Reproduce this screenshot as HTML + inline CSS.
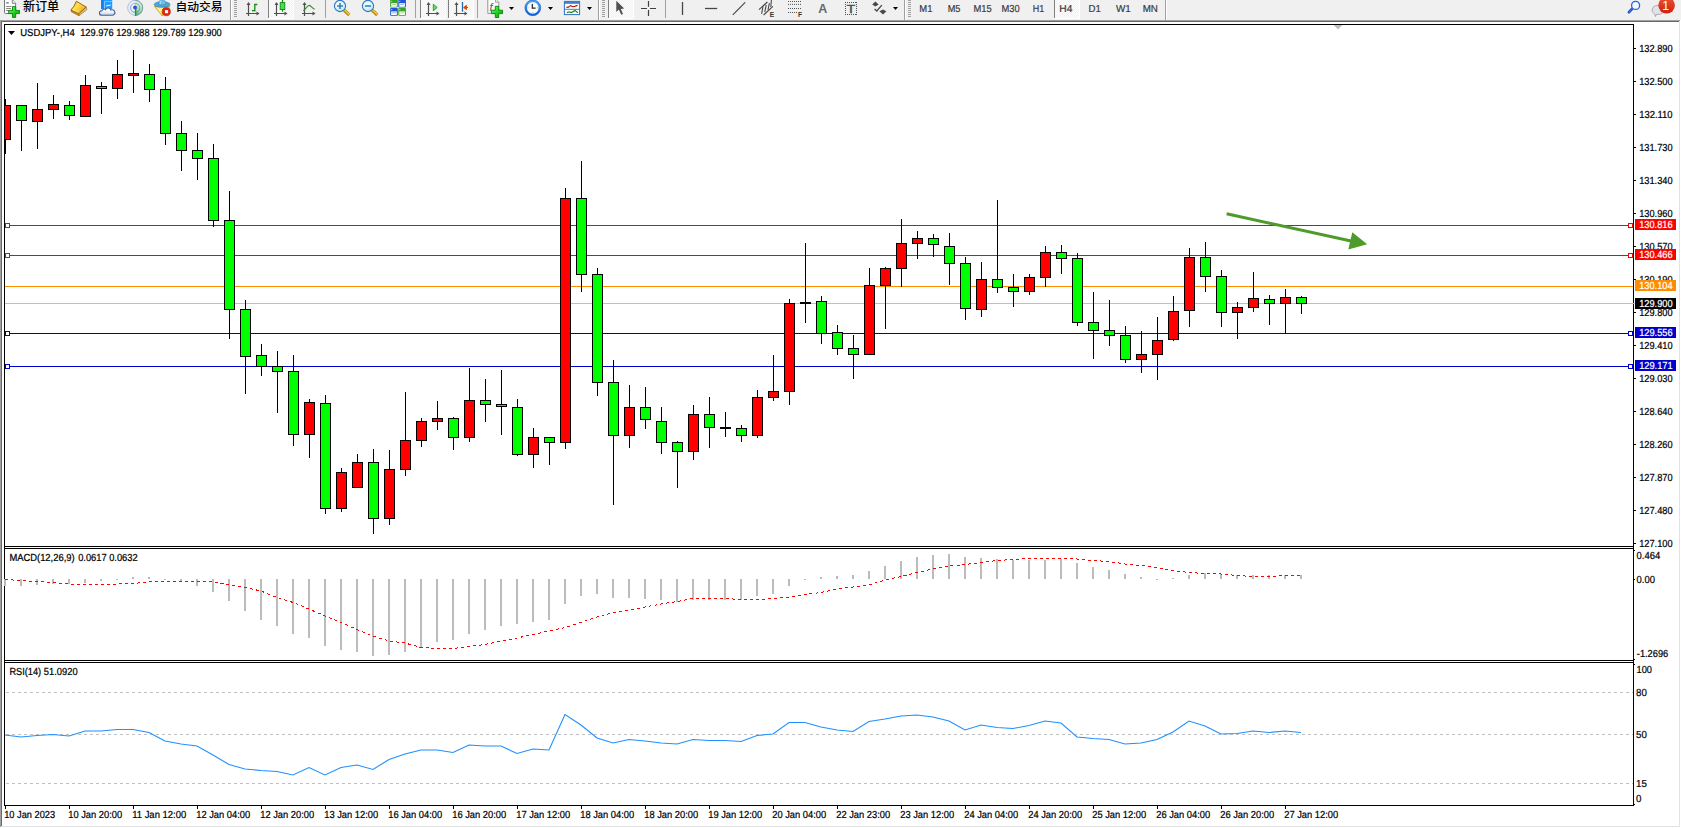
<!DOCTYPE html><html><head><meta charset="utf-8"><title>USDJPY H4</title><style>
html,body{margin:0;padding:0;background:#fff;overflow:hidden}svg{display:block}
text{font-family:'Liberation Sans', 'Noto Sans CJK SC', sans-serif;white-space:pre}
</style></head><body>
<svg width="1681" height="828" viewBox="0 0 1681 828">
<rect x="0" y="0" width="1681" height="828" fill="#ffffff"/>
<rect x="0" y="0" width="1681" height="20" fill="#f0f0f0"/>
<g shape-rendering="crispEdges">
<rect x="0" y="20" width="1680" height="1" fill="#a0a0a0"/>
<rect x="0" y="20" width="1" height="807" fill="#a0a0a0"/>
<rect x="1" y="21" width="1678" height="1" fill="#696969"/>
<rect x="1" y="21" width="1" height="805" fill="#696969"/>
<rect x="1679" y="21" width="1" height="806" fill="#e3e3e3"/>
<rect x="1" y="826" width="1679" height="1" fill="#e3e3e3"/>
<rect x="4" y="24" width="1" height="782" fill="#000000"/>
<rect x="1633" y="24" width="1" height="782" fill="#000000"/>
<rect x="4" y="24" width="1630" height="1" fill="#000000"/>
<rect x="4" y="546" width="1630" height="1" fill="#000000"/>
<rect x="4" y="548" width="1630" height="1" fill="#000000"/>
<rect x="4" y="660" width="1630" height="1" fill="#000000"/>
<rect x="4" y="662" width="1630" height="1" fill="#000000"/>
<rect x="4" y="805" width="1630" height="1" fill="#000000"/>
<rect x="1634" y="48" width="2" height="1" fill="#000000"/>
<rect x="1634" y="81" width="2" height="1" fill="#000000"/>
<rect x="1634" y="114" width="2" height="1" fill="#000000"/>
<rect x="1634" y="147" width="2" height="1" fill="#000000"/>
<rect x="1634" y="180" width="2" height="1" fill="#000000"/>
<rect x="1634" y="213" width="2" height="1" fill="#000000"/>
<rect x="1634" y="246" width="2" height="1" fill="#000000"/>
<rect x="1634" y="279" width="2" height="1" fill="#000000"/>
<rect x="1634" y="312" width="2" height="1" fill="#000000"/>
<rect x="1634" y="345" width="2" height="1" fill="#000000"/>
<rect x="1634" y="378" width="2" height="1" fill="#000000"/>
<rect x="1634" y="411" width="2" height="1" fill="#000000"/>
<rect x="1634" y="444" width="2" height="1" fill="#000000"/>
<rect x="1634" y="477" width="2" height="1" fill="#000000"/>
<rect x="1634" y="510" width="2" height="1" fill="#000000"/>
<rect x="1634" y="543" width="2" height="1" fill="#000000"/>
<rect x="1634" y="579" width="1" height="1" fill="#000000"/>
<rect x="1634" y="550" width="1" height="1" fill="#000000"/>
<rect x="1634" y="659" width="1" height="1" fill="#000000"/>
<rect x="1634" y="664" width="1" height="1" fill="#000000"/>
<rect x="1634" y="804" width="1" height="1" fill="#000000"/>
<rect x="5" y="806" width="1" height="3" fill="#000000"/>
<rect x="69" y="806" width="1" height="3" fill="#000000"/>
<rect x="133" y="806" width="1" height="3" fill="#000000"/>
<rect x="197" y="806" width="1" height="3" fill="#000000"/>
<rect x="261" y="806" width="1" height="3" fill="#000000"/>
<rect x="325" y="806" width="1" height="3" fill="#000000"/>
<rect x="389" y="806" width="1" height="3" fill="#000000"/>
<rect x="453" y="806" width="1" height="3" fill="#000000"/>
<rect x="517" y="806" width="1" height="3" fill="#000000"/>
<rect x="581" y="806" width="1" height="3" fill="#000000"/>
<rect x="645" y="806" width="1" height="3" fill="#000000"/>
<rect x="709" y="806" width="1" height="3" fill="#000000"/>
<rect x="773" y="806" width="1" height="3" fill="#000000"/>
<rect x="837" y="806" width="1" height="3" fill="#000000"/>
<rect x="901" y="806" width="1" height="3" fill="#000000"/>
<rect x="965" y="806" width="1" height="3" fill="#000000"/>
<rect x="1029" y="806" width="1" height="3" fill="#000000"/>
<rect x="1093" y="806" width="1" height="3" fill="#000000"/>
<rect x="1157" y="806" width="1" height="3" fill="#000000"/>
<rect x="1221" y="806" width="1" height="3" fill="#000000"/>
<rect x="1285" y="806" width="1" height="3" fill="#000000"/>
<rect x="5" y="225" width="1628" height="1" fill="#ff0000"/>
<rect x="5" y="255" width="1628" height="1" fill="#ff0000"/>
<rect x="5" y="286" width="1628" height="1" fill="#ff8c00"/>
<rect x="5" y="303" width="1630" height="1" fill="#c0c0c0"/>
<rect x="5" y="333" width="1628" height="1" fill="#0000cd"/>
<rect x="5" y="366" width="1628" height="1" fill="#0000cd"/>
<path d="M6 692.5H1633" stroke="#c0c0c0" stroke-width="1" stroke-dasharray="3 3" fill="none"/>
<path d="M6 734.5H1633" stroke="#c0c0c0" stroke-width="1" stroke-dasharray="3 3" fill="none"/>
<path d="M6 783.5H1633" stroke="#c0c0c0" stroke-width="1" stroke-dasharray="3 3" fill="none"/>
<rect x="4" y="579" width="2" height="7" fill="#bcbcbc"/>
<rect x="20" y="579" width="2" height="7" fill="#bcbcbc"/>
<rect x="36" y="579" width="2" height="6" fill="#bcbcbc"/>
<rect x="52" y="579" width="2" height="5" fill="#bcbcbc"/>
<rect x="68" y="579" width="2" height="5" fill="#bcbcbc"/>
<rect x="84" y="579" width="2" height="4" fill="#bcbcbc"/>
<rect x="100" y="579" width="2" height="2" fill="#bcbcbc"/>
<rect x="116" y="579" width="2" height="1" fill="#bcbcbc"/>
<rect x="132" y="577" width="2" height="2" fill="#bcbcbc"/>
<rect x="148" y="577" width="2" height="2" fill="#bcbcbc"/>
<rect x="164" y="579" width="2" height="1" fill="#bcbcbc"/>
<rect x="180" y="579" width="2" height="3" fill="#bcbcbc"/>
<rect x="196" y="579" width="2" height="7" fill="#bcbcbc"/>
<rect x="212" y="579" width="2" height="13" fill="#bcbcbc"/>
<rect x="228" y="579" width="2" height="22" fill="#bcbcbc"/>
<rect x="244" y="579" width="2" height="32" fill="#bcbcbc"/>
<rect x="260" y="579" width="2" height="41" fill="#bcbcbc"/>
<rect x="276" y="579" width="2" height="47" fill="#bcbcbc"/>
<rect x="292" y="579" width="2" height="55" fill="#bcbcbc"/>
<rect x="308" y="579" width="2" height="59" fill="#bcbcbc"/>
<rect x="324" y="579" width="2" height="67" fill="#bcbcbc"/>
<rect x="340" y="579" width="2" height="71" fill="#bcbcbc"/>
<rect x="356" y="579" width="2" height="73" fill="#bcbcbc"/>
<rect x="372" y="579" width="2" height="77" fill="#bcbcbc"/>
<rect x="388" y="579" width="2" height="76" fill="#bcbcbc"/>
<rect x="404" y="579" width="2" height="73" fill="#bcbcbc"/>
<rect x="420" y="579" width="2" height="69" fill="#bcbcbc"/>
<rect x="436" y="579" width="2" height="63" fill="#bcbcbc"/>
<rect x="452" y="579" width="2" height="61" fill="#bcbcbc"/>
<rect x="468" y="579" width="2" height="55" fill="#bcbcbc"/>
<rect x="484" y="579" width="2" height="51" fill="#bcbcbc"/>
<rect x="500" y="579" width="2" height="47" fill="#bcbcbc"/>
<rect x="516" y="579" width="2" height="45" fill="#bcbcbc"/>
<rect x="532" y="579" width="2" height="43" fill="#bcbcbc"/>
<rect x="548" y="579" width="2" height="41" fill="#bcbcbc"/>
<rect x="564" y="579" width="2" height="25" fill="#bcbcbc"/>
<rect x="580" y="579" width="2" height="17" fill="#bcbcbc"/>
<rect x="596" y="579" width="2" height="15" fill="#bcbcbc"/>
<rect x="612" y="579" width="2" height="19" fill="#bcbcbc"/>
<rect x="628" y="579" width="2" height="19" fill="#bcbcbc"/>
<rect x="644" y="579" width="2" height="20" fill="#bcbcbc"/>
<rect x="660" y="579" width="2" height="21" fill="#bcbcbc"/>
<rect x="676" y="579" width="2" height="23" fill="#bcbcbc"/>
<rect x="692" y="579" width="2" height="21" fill="#bcbcbc"/>
<rect x="708" y="579" width="2" height="21" fill="#bcbcbc"/>
<rect x="724" y="579" width="2" height="21" fill="#bcbcbc"/>
<rect x="740" y="579" width="2" height="21" fill="#bcbcbc"/>
<rect x="756" y="579" width="2" height="17" fill="#bcbcbc"/>
<rect x="772" y="579" width="2" height="15" fill="#bcbcbc"/>
<rect x="788" y="579" width="2" height="7" fill="#bcbcbc"/>
<rect x="804" y="579" width="2" height="1" fill="#bcbcbc"/>
<rect x="820" y="577" width="2" height="2" fill="#bcbcbc"/>
<rect x="836" y="576" width="2" height="3" fill="#bcbcbc"/>
<rect x="852" y="575" width="2" height="4" fill="#bcbcbc"/>
<rect x="868" y="571" width="2" height="8" fill="#bcbcbc"/>
<rect x="884" y="566" width="2" height="13" fill="#bcbcbc"/>
<rect x="900" y="561" width="2" height="18" fill="#bcbcbc"/>
<rect x="916" y="557" width="2" height="22" fill="#bcbcbc"/>
<rect x="932" y="555" width="2" height="24" fill="#bcbcbc"/>
<rect x="948" y="554" width="2" height="25" fill="#bcbcbc"/>
<rect x="964" y="557" width="2" height="22" fill="#bcbcbc"/>
<rect x="980" y="558" width="2" height="21" fill="#bcbcbc"/>
<rect x="996" y="559" width="2" height="20" fill="#bcbcbc"/>
<rect x="1012" y="560" width="2" height="19" fill="#bcbcbc"/>
<rect x="1028" y="560" width="2" height="19" fill="#bcbcbc"/>
<rect x="1044" y="560" width="2" height="19" fill="#bcbcbc"/>
<rect x="1060" y="559" width="2" height="20" fill="#bcbcbc"/>
<rect x="1076" y="563" width="2" height="16" fill="#bcbcbc"/>
<rect x="1092" y="567" width="2" height="12" fill="#bcbcbc"/>
<rect x="1108" y="570" width="2" height="9" fill="#bcbcbc"/>
<rect x="1124" y="574" width="2" height="5" fill="#bcbcbc"/>
<rect x="1140" y="577" width="2" height="2" fill="#bcbcbc"/>
<rect x="1156" y="579" width="2" height="1" fill="#bcbcbc"/>
<rect x="1172" y="578" width="2" height="1" fill="#bcbcbc"/>
<rect x="1188" y="575" width="2" height="4" fill="#bcbcbc"/>
<rect x="1204" y="573" width="2" height="6" fill="#bcbcbc"/>
<rect x="1220" y="574" width="2" height="5" fill="#bcbcbc"/>
<rect x="1236" y="575" width="2" height="4" fill="#bcbcbc"/>
<rect x="1252" y="575" width="2" height="4" fill="#bcbcbc"/>
<rect x="1268" y="575" width="2" height="4" fill="#bcbcbc"/>
<rect x="1284" y="575" width="2" height="4" fill="#bcbcbc"/>
<rect x="1300" y="575" width="2" height="4" fill="#bcbcbc"/>
<g id="candles">
<rect x="5" y="99" width="1" height="55" fill="#000000"/>
<rect x="5" y="105" width="6" height="35" fill="#000000"/>
<rect x="5" y="106" width="5" height="33" fill="#ff0000"/>
<rect x="21" y="105" width="1" height="46" fill="#000000"/>
<rect x="16" y="105" width="11" height="16" fill="#000000"/>
<rect x="17" y="106" width="9" height="14" fill="#00ff00"/>
<rect x="37" y="83" width="1" height="66" fill="#000000"/>
<rect x="32" y="109" width="11" height="13" fill="#000000"/>
<rect x="33" y="110" width="9" height="11" fill="#ff0000"/>
<rect x="53" y="95" width="1" height="24" fill="#000000"/>
<rect x="48" y="104" width="11" height="6" fill="#000000"/>
<rect x="49" y="105" width="9" height="4" fill="#ff0000"/>
<rect x="69" y="101" width="1" height="19" fill="#000000"/>
<rect x="64" y="105" width="11" height="11" fill="#000000"/>
<rect x="65" y="106" width="9" height="9" fill="#00ff00"/>
<rect x="85" y="75" width="1" height="42" fill="#000000"/>
<rect x="80" y="85" width="11" height="32" fill="#000000"/>
<rect x="81" y="86" width="9" height="30" fill="#ff0000"/>
<rect x="101" y="82" width="1" height="32" fill="#000000"/>
<rect x="96" y="86" width="11" height="3" fill="#000000"/>
<rect x="97" y="87" width="9" height="1" fill="#00ff00"/>
<rect x="117" y="60" width="1" height="39" fill="#000000"/>
<rect x="112" y="74" width="11" height="15" fill="#000000"/>
<rect x="113" y="75" width="9" height="13" fill="#ff0000"/>
<rect x="133" y="50" width="1" height="43" fill="#000000"/>
<rect x="128" y="73" width="11" height="3" fill="#000000"/>
<rect x="129" y="74" width="9" height="1" fill="#ff0000"/>
<rect x="149" y="64" width="1" height="38" fill="#000000"/>
<rect x="144" y="74" width="11" height="16" fill="#000000"/>
<rect x="145" y="75" width="9" height="14" fill="#00ff00"/>
<rect x="165" y="77" width="1" height="68" fill="#000000"/>
<rect x="160" y="89" width="11" height="45" fill="#000000"/>
<rect x="161" y="90" width="9" height="43" fill="#00ff00"/>
<rect x="181" y="121" width="1" height="50" fill="#000000"/>
<rect x="176" y="133" width="11" height="18" fill="#000000"/>
<rect x="177" y="134" width="9" height="16" fill="#00ff00"/>
<rect x="197" y="133" width="1" height="47" fill="#000000"/>
<rect x="192" y="150" width="11" height="9" fill="#000000"/>
<rect x="193" y="151" width="9" height="7" fill="#00ff00"/>
<rect x="213" y="144" width="1" height="83" fill="#000000"/>
<rect x="208" y="158" width="11" height="63" fill="#000000"/>
<rect x="209" y="159" width="9" height="61" fill="#00ff00"/>
<rect x="229" y="191" width="1" height="148" fill="#000000"/>
<rect x="224" y="220" width="11" height="90" fill="#000000"/>
<rect x="225" y="221" width="9" height="88" fill="#00ff00"/>
<rect x="245" y="300" width="1" height="94" fill="#000000"/>
<rect x="240" y="309" width="11" height="48" fill="#000000"/>
<rect x="241" y="310" width="9" height="46" fill="#00ff00"/>
<rect x="261" y="344" width="1" height="32" fill="#000000"/>
<rect x="256" y="355" width="11" height="12" fill="#000000"/>
<rect x="257" y="356" width="9" height="10" fill="#00ff00"/>
<rect x="277" y="351" width="1" height="62" fill="#000000"/>
<rect x="272" y="366" width="11" height="6" fill="#000000"/>
<rect x="273" y="367" width="9" height="4" fill="#00ff00"/>
<rect x="293" y="355" width="1" height="91" fill="#000000"/>
<rect x="288" y="371" width="11" height="64" fill="#000000"/>
<rect x="289" y="372" width="9" height="62" fill="#00ff00"/>
<rect x="309" y="399" width="1" height="59" fill="#000000"/>
<rect x="304" y="402" width="11" height="33" fill="#000000"/>
<rect x="305" y="403" width="9" height="31" fill="#ff0000"/>
<rect x="325" y="395" width="1" height="119" fill="#000000"/>
<rect x="320" y="403" width="11" height="106" fill="#000000"/>
<rect x="321" y="404" width="9" height="104" fill="#00ff00"/>
<rect x="341" y="468" width="1" height="44" fill="#000000"/>
<rect x="336" y="472" width="11" height="37" fill="#000000"/>
<rect x="337" y="473" width="9" height="35" fill="#ff0000"/>
<rect x="357" y="454" width="1" height="34" fill="#000000"/>
<rect x="352" y="462" width="11" height="26" fill="#000000"/>
<rect x="353" y="463" width="9" height="24" fill="#ff0000"/>
<rect x="373" y="449" width="1" height="85" fill="#000000"/>
<rect x="368" y="462" width="11" height="57" fill="#000000"/>
<rect x="369" y="463" width="9" height="55" fill="#00ff00"/>
<rect x="389" y="450" width="1" height="75" fill="#000000"/>
<rect x="384" y="469" width="11" height="50" fill="#000000"/>
<rect x="385" y="470" width="9" height="48" fill="#ff0000"/>
<rect x="405" y="392" width="1" height="84" fill="#000000"/>
<rect x="400" y="440" width="11" height="30" fill="#000000"/>
<rect x="401" y="441" width="9" height="28" fill="#ff0000"/>
<rect x="421" y="418" width="1" height="29" fill="#000000"/>
<rect x="416" y="421" width="11" height="20" fill="#000000"/>
<rect x="417" y="422" width="9" height="18" fill="#ff0000"/>
<rect x="437" y="401" width="1" height="29" fill="#000000"/>
<rect x="432" y="418" width="11" height="4" fill="#000000"/>
<rect x="433" y="419" width="9" height="2" fill="#ff0000"/>
<rect x="453" y="417" width="1" height="33" fill="#000000"/>
<rect x="448" y="418" width="11" height="20" fill="#000000"/>
<rect x="449" y="419" width="9" height="18" fill="#00ff00"/>
<rect x="469" y="368" width="1" height="74" fill="#000000"/>
<rect x="464" y="400" width="11" height="38" fill="#000000"/>
<rect x="465" y="401" width="9" height="36" fill="#ff0000"/>
<rect x="485" y="379" width="1" height="43" fill="#000000"/>
<rect x="480" y="400" width="11" height="5" fill="#000000"/>
<rect x="481" y="401" width="9" height="3" fill="#00ff00"/>
<rect x="501" y="370" width="1" height="65" fill="#000000"/>
<rect x="496" y="404" width="11" height="3" fill="#000000"/>
<rect x="497" y="405" width="9" height="1" fill="#00ff00"/>
<rect x="517" y="399" width="1" height="57" fill="#000000"/>
<rect x="512" y="407" width="11" height="48" fill="#000000"/>
<rect x="513" y="408" width="9" height="46" fill="#00ff00"/>
<rect x="533" y="428" width="1" height="40" fill="#000000"/>
<rect x="528" y="437" width="11" height="18" fill="#000000"/>
<rect x="529" y="438" width="9" height="16" fill="#ff0000"/>
<rect x="549" y="437" width="1" height="28" fill="#000000"/>
<rect x="544" y="437" width="11" height="6" fill="#000000"/>
<rect x="545" y="438" width="9" height="4" fill="#00ff00"/>
<rect x="565" y="188" width="1" height="261" fill="#000000"/>
<rect x="560" y="198" width="11" height="245" fill="#000000"/>
<rect x="561" y="199" width="9" height="243" fill="#ff0000"/>
<rect x="581" y="161" width="1" height="131" fill="#000000"/>
<rect x="576" y="198" width="11" height="77" fill="#000000"/>
<rect x="577" y="199" width="9" height="75" fill="#00ff00"/>
<rect x="597" y="268" width="1" height="128" fill="#000000"/>
<rect x="592" y="274" width="11" height="109" fill="#000000"/>
<rect x="593" y="275" width="9" height="107" fill="#00ff00"/>
<rect x="613" y="360" width="1" height="145" fill="#000000"/>
<rect x="608" y="382" width="11" height="54" fill="#000000"/>
<rect x="609" y="383" width="9" height="52" fill="#00ff00"/>
<rect x="629" y="385" width="1" height="63" fill="#000000"/>
<rect x="624" y="407" width="11" height="29" fill="#000000"/>
<rect x="625" y="408" width="9" height="27" fill="#ff0000"/>
<rect x="645" y="387" width="1" height="42" fill="#000000"/>
<rect x="640" y="407" width="11" height="13" fill="#000000"/>
<rect x="641" y="408" width="9" height="11" fill="#00ff00"/>
<rect x="661" y="407" width="1" height="47" fill="#000000"/>
<rect x="656" y="421" width="11" height="22" fill="#000000"/>
<rect x="657" y="422" width="9" height="20" fill="#00ff00"/>
<rect x="677" y="441" width="1" height="47" fill="#000000"/>
<rect x="672" y="442" width="11" height="10" fill="#000000"/>
<rect x="673" y="443" width="9" height="8" fill="#00ff00"/>
<rect x="693" y="405" width="1" height="55" fill="#000000"/>
<rect x="688" y="414" width="11" height="38" fill="#000000"/>
<rect x="689" y="415" width="9" height="36" fill="#ff0000"/>
<rect x="709" y="397" width="1" height="51" fill="#000000"/>
<rect x="704" y="414" width="11" height="14" fill="#000000"/>
<rect x="705" y="415" width="9" height="12" fill="#00ff00"/>
<rect x="725" y="412" width="1" height="25" fill="#000000"/>
<rect x="720" y="427" width="11" height="2" fill="#000000"/>
<rect x="741" y="425" width="1" height="17" fill="#000000"/>
<rect x="736" y="428" width="11" height="8" fill="#000000"/>
<rect x="737" y="429" width="9" height="6" fill="#00ff00"/>
<rect x="757" y="390" width="1" height="48" fill="#000000"/>
<rect x="752" y="397" width="11" height="39" fill="#000000"/>
<rect x="753" y="398" width="9" height="37" fill="#ff0000"/>
<rect x="773" y="355" width="1" height="46" fill="#000000"/>
<rect x="768" y="391" width="11" height="7" fill="#000000"/>
<rect x="769" y="392" width="9" height="5" fill="#ff0000"/>
<rect x="789" y="299" width="1" height="106" fill="#000000"/>
<rect x="784" y="303" width="11" height="89" fill="#000000"/>
<rect x="785" y="304" width="9" height="87" fill="#ff0000"/>
<rect x="805" y="243" width="1" height="80" fill="#000000"/>
<rect x="800" y="302" width="11" height="2" fill="#000000"/>
<rect x="821" y="296" width="1" height="48" fill="#000000"/>
<rect x="816" y="301" width="11" height="33" fill="#000000"/>
<rect x="817" y="302" width="9" height="31" fill="#00ff00"/>
<rect x="837" y="325" width="1" height="30" fill="#000000"/>
<rect x="832" y="332" width="11" height="17" fill="#000000"/>
<rect x="833" y="333" width="9" height="15" fill="#00ff00"/>
<rect x="853" y="335" width="1" height="44" fill="#000000"/>
<rect x="848" y="348" width="11" height="7" fill="#000000"/>
<rect x="849" y="349" width="9" height="5" fill="#00ff00"/>
<rect x="869" y="268" width="1" height="87" fill="#000000"/>
<rect x="864" y="285" width="11" height="70" fill="#000000"/>
<rect x="865" y="286" width="9" height="68" fill="#ff0000"/>
<rect x="885" y="267" width="1" height="62" fill="#000000"/>
<rect x="880" y="268" width="11" height="18" fill="#000000"/>
<rect x="881" y="269" width="9" height="16" fill="#ff0000"/>
<rect x="901" y="219" width="1" height="68" fill="#000000"/>
<rect x="896" y="243" width="11" height="26" fill="#000000"/>
<rect x="897" y="244" width="9" height="24" fill="#ff0000"/>
<rect x="917" y="231" width="1" height="28" fill="#000000"/>
<rect x="912" y="238" width="11" height="6" fill="#000000"/>
<rect x="913" y="239" width="9" height="4" fill="#ff0000"/>
<rect x="933" y="234" width="1" height="23" fill="#000000"/>
<rect x="928" y="238" width="11" height="7" fill="#000000"/>
<rect x="929" y="239" width="9" height="5" fill="#00ff00"/>
<rect x="949" y="233" width="1" height="52" fill="#000000"/>
<rect x="944" y="246" width="11" height="18" fill="#000000"/>
<rect x="945" y="247" width="9" height="16" fill="#00ff00"/>
<rect x="965" y="257" width="1" height="63" fill="#000000"/>
<rect x="960" y="263" width="11" height="46" fill="#000000"/>
<rect x="961" y="264" width="9" height="44" fill="#00ff00"/>
<rect x="981" y="262" width="1" height="55" fill="#000000"/>
<rect x="976" y="279" width="11" height="31" fill="#000000"/>
<rect x="977" y="280" width="9" height="29" fill="#ff0000"/>
<rect x="997" y="200" width="1" height="93" fill="#000000"/>
<rect x="992" y="279" width="11" height="9" fill="#000000"/>
<rect x="993" y="280" width="9" height="7" fill="#00ff00"/>
<rect x="1013" y="274" width="1" height="33" fill="#000000"/>
<rect x="1008" y="287" width="11" height="5" fill="#000000"/>
<rect x="1009" y="288" width="9" height="3" fill="#00ff00"/>
<rect x="1029" y="274" width="1" height="21" fill="#000000"/>
<rect x="1024" y="277" width="11" height="15" fill="#000000"/>
<rect x="1025" y="278" width="9" height="13" fill="#ff0000"/>
<rect x="1045" y="246" width="1" height="41" fill="#000000"/>
<rect x="1040" y="252" width="11" height="26" fill="#000000"/>
<rect x="1041" y="253" width="9" height="24" fill="#ff0000"/>
<rect x="1061" y="245" width="1" height="29" fill="#000000"/>
<rect x="1056" y="252" width="11" height="7" fill="#000000"/>
<rect x="1057" y="253" width="9" height="5" fill="#00ff00"/>
<rect x="1077" y="253" width="1" height="73" fill="#000000"/>
<rect x="1072" y="258" width="11" height="65" fill="#000000"/>
<rect x="1073" y="259" width="9" height="63" fill="#00ff00"/>
<rect x="1093" y="292" width="1" height="67" fill="#000000"/>
<rect x="1088" y="322" width="11" height="9" fill="#000000"/>
<rect x="1089" y="323" width="9" height="7" fill="#00ff00"/>
<rect x="1109" y="300" width="1" height="46" fill="#000000"/>
<rect x="1104" y="330" width="11" height="6" fill="#000000"/>
<rect x="1105" y="331" width="9" height="4" fill="#00ff00"/>
<rect x="1125" y="326" width="1" height="37" fill="#000000"/>
<rect x="1120" y="335" width="11" height="25" fill="#000000"/>
<rect x="1121" y="336" width="9" height="23" fill="#00ff00"/>
<rect x="1141" y="331" width="1" height="42" fill="#000000"/>
<rect x="1136" y="354" width="11" height="6" fill="#000000"/>
<rect x="1137" y="355" width="9" height="4" fill="#ff0000"/>
<rect x="1157" y="317" width="1" height="63" fill="#000000"/>
<rect x="1152" y="340" width="11" height="15" fill="#000000"/>
<rect x="1153" y="341" width="9" height="13" fill="#ff0000"/>
<rect x="1173" y="296" width="1" height="45" fill="#000000"/>
<rect x="1168" y="311" width="11" height="29" fill="#000000"/>
<rect x="1169" y="312" width="9" height="27" fill="#ff0000"/>
<rect x="1189" y="248" width="1" height="79" fill="#000000"/>
<rect x="1184" y="257" width="11" height="54" fill="#000000"/>
<rect x="1185" y="258" width="9" height="52" fill="#ff0000"/>
<rect x="1205" y="242" width="1" height="50" fill="#000000"/>
<rect x="1200" y="257" width="11" height="20" fill="#000000"/>
<rect x="1201" y="258" width="9" height="18" fill="#00ff00"/>
<rect x="1221" y="270" width="1" height="57" fill="#000000"/>
<rect x="1216" y="276" width="11" height="37" fill="#000000"/>
<rect x="1217" y="277" width="9" height="35" fill="#00ff00"/>
<rect x="1237" y="302" width="1" height="37" fill="#000000"/>
<rect x="1232" y="307" width="11" height="6" fill="#000000"/>
<rect x="1233" y="308" width="9" height="4" fill="#ff0000"/>
<rect x="1253" y="272" width="1" height="40" fill="#000000"/>
<rect x="1248" y="298" width="11" height="10" fill="#000000"/>
<rect x="1249" y="299" width="9" height="8" fill="#ff0000"/>
<rect x="1269" y="295" width="1" height="30" fill="#000000"/>
<rect x="1264" y="299" width="11" height="5" fill="#000000"/>
<rect x="1265" y="300" width="9" height="3" fill="#00ff00"/>
<rect x="1285" y="289" width="1" height="45" fill="#000000"/>
<rect x="1280" y="297" width="11" height="7" fill="#000000"/>
<rect x="1281" y="298" width="9" height="5" fill="#ff0000"/>
<rect x="1301" y="296" width="1" height="18" fill="#000000"/>
<rect x="1296" y="297" width="11" height="7" fill="#000000"/>
<rect x="1297" y="298" width="9" height="5" fill="#00ff00"/>
</g>
<rect x="5" y="223" width="5" height="5" fill="#ff0000"/>
<rect x="6" y="224" width="3" height="3" fill="#fff"/>
<rect x="1628" y="223" width="5" height="5" fill="#ff0000"/>
<rect x="1629" y="224" width="3" height="3" fill="#fff"/>
<rect x="5" y="253" width="5" height="5" fill="#ff0000"/>
<rect x="6" y="254" width="3" height="3" fill="#fff"/>
<rect x="1628" y="253" width="5" height="5" fill="#ff0000"/>
<rect x="1629" y="254" width="3" height="3" fill="#fff"/>
<rect x="5" y="331" width="5" height="5" fill="#0000cd"/>
<rect x="6" y="332" width="3" height="3" fill="#fff"/>
<rect x="1628" y="331" width="5" height="5" fill="#0000cd"/>
<rect x="1629" y="332" width="3" height="3" fill="#fff"/>
<rect x="5" y="364" width="5" height="5" fill="#0000cd"/>
<rect x="6" y="365" width="3" height="3" fill="#fff"/>
<rect x="1628" y="364" width="5" height="5" fill="#0000cd"/>
<rect x="1629" y="365" width="3" height="3" fill="#fff"/>
</g>
<path d="M1333.5 25H1342.5L1338 29.5Z" fill="#c0c0c0"/>
<polyline points="5,579.5 21,580.5 37,581.5 53,582.5 69,584 85,585 101,584.5 117,584 133,583.5 149,582 165,581 181,581 197,581 213,582 229,584.5 245,587.5 261,591 277,597.5 293,602.5 309,609 325,616 341,622.5 357,629.5 373,636 389,641 405,643 421,647.5 437,648.5 453,648.5 469,646.5 485,644.5 501,641 517,638 533,634.5 549,631 565,627.5 581,622.5 597,617 613,612.5 629,610.5 645,607 661,604 677,601.5 693,598.5 709,598.5 725,598.5 741,599.5 757,599.5 773,598.5 789,597 805,594.5 821,592.5 837,589 853,587 869,585 885,580 901,576.5 917,572.5 933,569 949,566 965,564.5 981,562.5 997,560.5 1013,559.5 1029,558.5 1045,558.5 1061,558.5 1077,559 1093,560.5 1109,561.5 1125,564 1141,565.5 1157,567.5 1173,570.5 1189,572.5 1205,573.5 1221,574 1237,575.5 1253,576.5 1269,576.5 1285,575.75 1301,575.5" fill="none" stroke="#ff0000" stroke-width="1" stroke-dasharray="3 3" shape-rendering="crispEdges"/>
<polyline points="5,735 21,737 37,735.5 53,734.5 69,736 85,731 101,731 117,729.5 133,729.5 149,732.5 165,741 181,744 197,746 213,755 229,764.5 245,769 261,770.5 277,771.5 293,775 309,767.5 325,775 341,767.5 357,765 373,769.5 389,759.5 405,754 421,750 437,750 453,752.5 469,745 485,746 501,746 517,753.5 533,749 549,750 565,714.5 581,725 597,738 613,743 629,739.5 645,741 661,743 677,744 693,739.5 709,740.5 725,740.5 741,741.5 757,735.5 773,734 789,722.5 805,722.5 821,727 837,730 853,731.5 869,721.5 885,719 901,716 917,715 933,717 949,721 965,730 981,725 997,727.5 1013,728.5 1029,725.5 1045,721 1061,723 1077,737 1093,738.5 1109,739.5 1125,744 1141,743 1157,739.5 1173,732 1189,721 1205,726 1221,734 1237,733.5 1253,731 1269,732.5 1285,731 1301,732.5" fill="none" stroke="#1e90ff" stroke-width="1.1"/>
<path d="M1226.6 213.7L1351 241" stroke="#4e9a2a" stroke-width="3" fill="none"/>
<path d="M1352.3 232.2L1367.2 244.2L1348.3 249.6Z" fill="#4e9a2a"/>
<path d="M8 31H15L11.5 35Z" fill="#000"/>
<text y="36" transform="rotate(0.03 20.2 36)" font-size="10.2" fill="#000" stroke="#000" stroke-width="0.22"><tspan x="20.2" textLength="54.6" lengthAdjust="spacingAndGlyphs">USDJPY-,H4</tspan><tspan>  </tspan><tspan x="80.2" textLength="141.5" lengthAdjust="spacingAndGlyphs">129.976 129.988 129.789 129.900</tspan></text>
<text y="561" transform="rotate(0.03 9.4 561)" font-size="10.2" fill="#000" stroke="#000" stroke-width="0.22"><tspan x="9.4" textLength="65.2" lengthAdjust="spacingAndGlyphs">MACD(12,26,9)</tspan><tspan> </tspan><tspan x="78.2" textLength="59.4" lengthAdjust="spacingAndGlyphs">0.0617 0.0632</tspan></text>
<text y="675" transform="rotate(0.03 9.4 675)" font-size="10.2" fill="#000" stroke="#000" stroke-width="0.22"><tspan x="9.4" textLength="31.8" lengthAdjust="spacingAndGlyphs">RSI(14)</tspan><tspan> </tspan><tspan x="43.8" textLength="33.8" lengthAdjust="spacingAndGlyphs">51.0920</tspan></text>
<text x="1639.2" y="52" transform="rotate(0.03 1639.2 52)" font-size="10.2" fill="#000" stroke="#000" stroke-width="0.22" textLength="33.4" lengthAdjust="spacingAndGlyphs">132.890</text>
<text x="1639.2" y="85" transform="rotate(0.03 1639.2 85)" font-size="10.2" fill="#000" stroke="#000" stroke-width="0.22" textLength="33.4" lengthAdjust="spacingAndGlyphs">132.500</text>
<text x="1639.2" y="118" transform="rotate(0.03 1639.2 118)" font-size="10.2" fill="#000" stroke="#000" stroke-width="0.22" textLength="33.4" lengthAdjust="spacingAndGlyphs">132.110</text>
<text x="1639.2" y="151" transform="rotate(0.03 1639.2 151)" font-size="10.2" fill="#000" stroke="#000" stroke-width="0.22" textLength="33.4" lengthAdjust="spacingAndGlyphs">131.730</text>
<text x="1639.2" y="184" transform="rotate(0.03 1639.2 184)" font-size="10.2" fill="#000" stroke="#000" stroke-width="0.22" textLength="33.4" lengthAdjust="spacingAndGlyphs">131.340</text>
<text x="1639.2" y="217" transform="rotate(0.03 1639.2 217)" font-size="10.2" fill="#000" stroke="#000" stroke-width="0.22" textLength="33.4" lengthAdjust="spacingAndGlyphs">130.960</text>
<text x="1639.2" y="250" transform="rotate(0.03 1639.2 250)" font-size="10.2" fill="#000" stroke="#000" stroke-width="0.22" textLength="33.4" lengthAdjust="spacingAndGlyphs">130.570</text>
<text x="1639.2" y="283" transform="rotate(0.03 1639.2 283)" font-size="10.2" fill="#000" stroke="#000" stroke-width="0.22" textLength="33.4" lengthAdjust="spacingAndGlyphs">130.190</text>
<text x="1639.2" y="316" transform="rotate(0.03 1639.2 316)" font-size="10.2" fill="#000" stroke="#000" stroke-width="0.22" textLength="33.4" lengthAdjust="spacingAndGlyphs">129.800</text>
<text x="1639.2" y="349" transform="rotate(0.03 1639.2 349)" font-size="10.2" fill="#000" stroke="#000" stroke-width="0.22" textLength="33.4" lengthAdjust="spacingAndGlyphs">129.410</text>
<text x="1639.2" y="382" transform="rotate(0.03 1639.2 382)" font-size="10.2" fill="#000" stroke="#000" stroke-width="0.22" textLength="33.4" lengthAdjust="spacingAndGlyphs">129.030</text>
<text x="1639.2" y="415" transform="rotate(0.03 1639.2 415)" font-size="10.2" fill="#000" stroke="#000" stroke-width="0.22" textLength="33.4" lengthAdjust="spacingAndGlyphs">128.640</text>
<text x="1639.2" y="448" transform="rotate(0.03 1639.2 448)" font-size="10.2" fill="#000" stroke="#000" stroke-width="0.22" textLength="33.4" lengthAdjust="spacingAndGlyphs">128.260</text>
<text x="1639.2" y="481" transform="rotate(0.03 1639.2 481)" font-size="10.2" fill="#000" stroke="#000" stroke-width="0.22" textLength="33.4" lengthAdjust="spacingAndGlyphs">127.870</text>
<text x="1639.2" y="514" transform="rotate(0.03 1639.2 514)" font-size="10.2" fill="#000" stroke="#000" stroke-width="0.22" textLength="33.4" lengthAdjust="spacingAndGlyphs">127.480</text>
<text x="1639.2" y="547" transform="rotate(0.03 1639.2 547)" font-size="10.2" fill="#000" stroke="#000" stroke-width="0.22" textLength="33.4" lengthAdjust="spacingAndGlyphs">127.100</text>
<g shape-rendering="crispEdges">
<rect x="1635" y="219" width="41" height="11" fill="#ff0000"/>
<rect x="1635" y="249" width="41" height="11" fill="#ff0000"/>
<rect x="1635" y="280" width="41" height="11" fill="#ff8c00"/>
<rect x="1635" y="298" width="41" height="11" fill="#000000"/>
<rect x="1635" y="327" width="41" height="11" fill="#0000cd"/>
<rect x="1635" y="360" width="41" height="11" fill="#0000cd"/>
</g>
<text x="1639.2" y="228" transform="rotate(0.03 1639.2 228)" font-size="10.2" fill="#fff" stroke="#fff" stroke-width="0.22" textLength="33.4" lengthAdjust="spacingAndGlyphs">130.816</text>
<text x="1639.2" y="258" transform="rotate(0.03 1639.2 258)" font-size="10.2" fill="#fff" stroke="#fff" stroke-width="0.22" textLength="33.4" lengthAdjust="spacingAndGlyphs">130.466</text>
<text x="1639.2" y="289" transform="rotate(0.03 1639.2 289)" font-size="10.2" fill="#fff" stroke="#fff" stroke-width="0.22" textLength="33.4" lengthAdjust="spacingAndGlyphs">130.104</text>
<text x="1639.2" y="307" transform="rotate(0.03 1639.2 307)" font-size="10.2" fill="#fff" stroke="#fff" stroke-width="0.22" textLength="33.4" lengthAdjust="spacingAndGlyphs">129.900</text>
<text x="1639.2" y="336" transform="rotate(0.03 1639.2 336)" font-size="10.2" fill="#fff" stroke="#fff" stroke-width="0.22" textLength="33.4" lengthAdjust="spacingAndGlyphs">129.556</text>
<text x="1639.2" y="369" transform="rotate(0.03 1639.2 369)" font-size="10.2" fill="#fff" stroke="#fff" stroke-width="0.22" textLength="33.4" lengthAdjust="spacingAndGlyphs">129.171</text>
<text x="1636.6" y="559" transform="rotate(0.03 1636.6 559)" font-size="10.2" fill="#000" stroke="#000" stroke-width="0.22" textLength="23.6" lengthAdjust="spacingAndGlyphs">0.464</text>
<text x="1636.6" y="583" transform="rotate(0.03 1636.6 583)" font-size="10.2" fill="#000" stroke="#000" stroke-width="0.22" textLength="18.4" lengthAdjust="spacingAndGlyphs">0.00</text>
<text x="1636.8" y="657" transform="rotate(0.03 1636.8 657)" font-size="10.2" fill="#000" stroke="#000" stroke-width="0.22" textLength="31.4" lengthAdjust="spacingAndGlyphs">-1.2696</text>
<text x="1636.6" y="673" transform="rotate(0.03 1636.6 673)" font-size="10.2" fill="#000" stroke="#000" stroke-width="0.22" textLength="15.4" lengthAdjust="spacingAndGlyphs">100</text>
<text x="1636" y="696" transform="rotate(0.03 1636 696)" font-size="10.2" fill="#000" stroke="#000" stroke-width="0.22" textLength="10.8" lengthAdjust="spacingAndGlyphs">80</text>
<text x="1636" y="738" transform="rotate(0.03 1636 738)" font-size="10.2" fill="#000" stroke="#000" stroke-width="0.22" textLength="10.8" lengthAdjust="spacingAndGlyphs">50</text>
<text x="1636" y="787" transform="rotate(0.03 1636 787)" font-size="10.2" fill="#000" stroke="#000" stroke-width="0.22" textLength="10.8" lengthAdjust="spacingAndGlyphs">15</text>
<text x="1636" y="802" transform="rotate(0.03 1636 802)" font-size="10.2" fill="#000" stroke="#000" stroke-width="0.22" textLength="5.4" lengthAdjust="spacingAndGlyphs">0</text>
<text x="4.2" y="818" transform="rotate(0.03 4.2 818)" font-size="10.2" fill="#000" stroke="#000" stroke-width="0.22" textLength="50.9" lengthAdjust="spacingAndGlyphs">10 Jan 2023</text>
<text x="68.2" y="818" transform="rotate(0.03 68.2 818)" font-size="10.2" fill="#000" stroke="#000" stroke-width="0.22" textLength="54" lengthAdjust="spacingAndGlyphs">10 Jan 20:00</text>
<text x="132.2" y="818" transform="rotate(0.03 132.2 818)" font-size="10.2" fill="#000" stroke="#000" stroke-width="0.22" textLength="54" lengthAdjust="spacingAndGlyphs">11 Jan 12:00</text>
<text x="196.2" y="818" transform="rotate(0.03 196.2 818)" font-size="10.2" fill="#000" stroke="#000" stroke-width="0.22" textLength="54" lengthAdjust="spacingAndGlyphs">12 Jan 04:00</text>
<text x="260.2" y="818" transform="rotate(0.03 260.2 818)" font-size="10.2" fill="#000" stroke="#000" stroke-width="0.22" textLength="54" lengthAdjust="spacingAndGlyphs">12 Jan 20:00</text>
<text x="324.2" y="818" transform="rotate(0.03 324.2 818)" font-size="10.2" fill="#000" stroke="#000" stroke-width="0.22" textLength="54" lengthAdjust="spacingAndGlyphs">13 Jan 12:00</text>
<text x="388.2" y="818" transform="rotate(0.03 388.2 818)" font-size="10.2" fill="#000" stroke="#000" stroke-width="0.22" textLength="54" lengthAdjust="spacingAndGlyphs">16 Jan 04:00</text>
<text x="452.2" y="818" transform="rotate(0.03 452.2 818)" font-size="10.2" fill="#000" stroke="#000" stroke-width="0.22" textLength="54" lengthAdjust="spacingAndGlyphs">16 Jan 20:00</text>
<text x="516.2" y="818" transform="rotate(0.03 516.2 818)" font-size="10.2" fill="#000" stroke="#000" stroke-width="0.22" textLength="54" lengthAdjust="spacingAndGlyphs">17 Jan 12:00</text>
<text x="580.2" y="818" transform="rotate(0.03 580.2 818)" font-size="10.2" fill="#000" stroke="#000" stroke-width="0.22" textLength="54" lengthAdjust="spacingAndGlyphs">18 Jan 04:00</text>
<text x="644.2" y="818" transform="rotate(0.03 644.2 818)" font-size="10.2" fill="#000" stroke="#000" stroke-width="0.22" textLength="54" lengthAdjust="spacingAndGlyphs">18 Jan 20:00</text>
<text x="708.2" y="818" transform="rotate(0.03 708.2 818)" font-size="10.2" fill="#000" stroke="#000" stroke-width="0.22" textLength="54" lengthAdjust="spacingAndGlyphs">19 Jan 12:00</text>
<text x="772.2" y="818" transform="rotate(0.03 772.2 818)" font-size="10.2" fill="#000" stroke="#000" stroke-width="0.22" textLength="54" lengthAdjust="spacingAndGlyphs">20 Jan 04:00</text>
<text x="836.2" y="818" transform="rotate(0.03 836.2 818)" font-size="10.2" fill="#000" stroke="#000" stroke-width="0.22" textLength="54" lengthAdjust="spacingAndGlyphs">22 Jan 23:00</text>
<text x="900.2" y="818" transform="rotate(0.03 900.2 818)" font-size="10.2" fill="#000" stroke="#000" stroke-width="0.22" textLength="54" lengthAdjust="spacingAndGlyphs">23 Jan 12:00</text>
<text x="964.2" y="818" transform="rotate(0.03 964.2 818)" font-size="10.2" fill="#000" stroke="#000" stroke-width="0.22" textLength="54" lengthAdjust="spacingAndGlyphs">24 Jan 04:00</text>
<text x="1028.2" y="818" transform="rotate(0.03 1028.2 818)" font-size="10.2" fill="#000" stroke="#000" stroke-width="0.22" textLength="54" lengthAdjust="spacingAndGlyphs">24 Jan 20:00</text>
<text x="1092.2" y="818" transform="rotate(0.03 1092.2 818)" font-size="10.2" fill="#000" stroke="#000" stroke-width="0.22" textLength="54" lengthAdjust="spacingAndGlyphs">25 Jan 12:00</text>
<text x="1156.2" y="818" transform="rotate(0.03 1156.2 818)" font-size="10.2" fill="#000" stroke="#000" stroke-width="0.22" textLength="54" lengthAdjust="spacingAndGlyphs">26 Jan 04:00</text>
<text x="1220.2" y="818" transform="rotate(0.03 1220.2 818)" font-size="10.2" fill="#000" stroke="#000" stroke-width="0.22" textLength="54" lengthAdjust="spacingAndGlyphs">26 Jan 20:00</text>
<text x="1284.2" y="818" transform="rotate(0.03 1284.2 818)" font-size="10.2" fill="#000" stroke="#000" stroke-width="0.22" textLength="54" lengthAdjust="spacingAndGlyphs">27 Jan 12:00</text>
<g id="toolbar">
<defs>
<linearGradient id="gp" x1="0" y1="0" x2="1" y2="1"><stop offset="0" stop-color="#7dff7d"/><stop offset="0.5" stop-color="#1fd81f"/><stop offset="1" stop-color="#0a9a0a"/></linearGradient>
<linearGradient id="gold" x1="0" y1="0" x2="1" y2="1"><stop offset="0" stop-color="#ffe680"/><stop offset="0.5" stop-color="#e6b422"/><stop offset="1" stop-color="#b57a12"/></linearGradient>
<linearGradient id="blu" x1="0" y1="0" x2="0" y2="1"><stop offset="0" stop-color="#4aa8ff"/><stop offset="1" stop-color="#0f62d8"/></linearGradient>
<linearGradient id="redg" x1="0" y1="0" x2="0" y2="1"><stop offset="0" stop-color="#e8553a"/><stop offset="1" stop-color="#d21f08"/></linearGradient>
<radialGradient id="lens" cx="0.4" cy="0.35" r="0.7"><stop offset="0" stop-color="#ffffff"/><stop offset="1" stop-color="#bfe3f7"/></radialGradient>
<pattern id="chk" width="2" height="2" patternUnits="userSpaceOnUse"><rect width="2" height="2" fill="#f0f0f0"/><rect width="1" height="1" fill="#fff"/><rect x="1" y="1" width="1" height="1" fill="#fff"/></pattern>
<linearGradient id="gold2" x1="0" y1="0" x2="1" y2="0.6"><stop offset="0" stop-color="#e8a818"/><stop offset="0.45" stop-color="#ffe04a"/><stop offset="1" stop-color="#e6ac1c"/></linearGradient>
<linearGradient id="cloudg" x1="0" y1="0" x2="0" y2="1"><stop offset="0" stop-color="#ffffff"/><stop offset="0.5" stop-color="#f2f5fa"/><stop offset="1" stop-color="#bccadf"/></linearGradient>
<linearGradient id="sweep" x1="0" y1="1" x2="0.3" y2="0"><stop offset="0" stop-color="#2eaa2e" stop-opacity="0.85"/><stop offset="0.5" stop-color="#7cc87c" stop-opacity="0.6"/><stop offset="1" stop-color="#cfe8cf" stop-opacity="0.35"/></linearGradient>
<linearGradient id="cone" x1="0" y1="0" x2="1" y2="1"><stop offset="0" stop-color="#f4c83a"/><stop offset="0.4" stop-color="#ffee70"/><stop offset="1" stop-color="#e8b01c"/></linearGradient>
</defs>
<path d="M4.5 -0.5H12.3L15.6 3.4V13.5H5.6Q4.5 13.5 4.5 12.4Z" fill="#ffffff" stroke="#777777" stroke-width="1"/>
<path d="M12.3 -0.5V3.4H15.6" fill="#f4f4f4" stroke="#777777" stroke-width="0.9"/>
<rect x="6.1" y="2.1" width="2.7" height="1.5" fill="#858585"/>
<path d="M6.1 6.5H11.4M6.1 8.5H11M6.1 10.5H9" stroke="#8c8c8c" stroke-width="1"/>
<path d="M12.5 6.6H15.7V10.4H19.5V13.6H15.7V17.4H12.5V13.6H8.7V10.4H12.5Z" fill="url(#gp)" stroke="#078207" stroke-width="0.9"/>
<text x="22.9" y="10.5" font-size="12.1" font-weight="500" fill="#000">新订单</text>
<path d="M71 9.8L79 13.4L79 15.8L71.2 11.8Z" fill="#c98a14" stroke="#a0640c" stroke-width="0.6"/>
<path d="M79 13.4L86.2 7L87 9.6L79 15.8Z" fill="#e8d9a0" stroke="#a0640c" stroke-width="0.6"/>
<path d="M79.4 14.3L86.5 8M79.3 15L86.7 8.8" stroke="#b08a3a" stroke-width="0.4"/>
<path d="M76.3 1.2L86.2 7L79 13.4L71 9.8Q74.6 6.5 76.3 1.2Z" fill="url(#gold2)" stroke="#96580a" stroke-width="0.9"/>
<path d="M72.3 9.7L79 12.6" stroke="#fff0a8" stroke-width="0.8" fill="none"/>
<path d="M101 -1H112.2V9H101Z" fill="#1f9cff"/>
<path d="M101 -1L104.4 1.6V9H101Z" fill="#0a86ee"/>
<path d="M101 -0.6H112.2" stroke="#7a7fd8" stroke-width="1.2"/>
<path d="M104.4 1.6H112.2" stroke="#8fd2ff" stroke-width="0.7"/><path d="M104.4 1.6V9" stroke="#d8f0ff" stroke-width="0.6"/>
<path d="M106 5.6L110.8 4.4V5.4L106 6.4Z" fill="#e6f6ff"/>
<path d="M102.2 15.3C98.4 15.3 98.6 10.6 102 10.6C102.6 8.6 105 8.6 105.6 9.6C106.8 7.2 110.4 7.6 110.8 10C113.6 8.8 116.2 12.2 114.2 14.4C113.6 15.2 112.8 15.3 112 15.3Z" fill="url(#cloudg)" stroke="#44619d" stroke-width="1.1"/>
<path d="M135.2 -0.2A8 8 0 0 1 135.2 15.8Z" fill="url(#sweep)"/>
<circle cx="135.2" cy="7.8" r="7.5" fill="none" stroke="#8fabea" stroke-width="1" opacity="0.75"/>
<circle cx="135.2" cy="7.8" r="4.6" fill="none" stroke="#6e92e0" stroke-width="1.1" opacity="0.8"/>
<path d="M135.2 0.3A7.5 7.5 0 0 1 135.2 15.3" fill="none" stroke="#5a9a7a" stroke-width="1" opacity="0.7"/>
<path d="M135.6 8V15.8" stroke="#12a012" stroke-width="1.4"/>
<circle cx="135" cy="7.5" r="1.9" fill="#2458cf"/>
<path d="M154.4 6.4L170 6.4L162.2 16Z" fill="url(#cone)" stroke="#cf9412" stroke-width="0.7"/>
<path d="M156.4 7.6L163.6 7.6L160.4 11.8Z" fill="#fff3a8" opacity="0.8"/>
<ellipse cx="162.1" cy="4.5" rx="7.9" ry="2.8" fill="#4fa9dc" stroke="#2a82b6" stroke-width="0.7"/>
<path d="M158.3 4.2C158.3 -2 166 -2 166 4.2C163.5 5.2 160.8 5.2 158.3 4.2Z" fill="#6fbfe8" stroke="#2a82b6" stroke-width="0.5"/>
<path d="M160 0.6C160.6 2.4 160.8 3.2 160.4 4" stroke="#bfe6f8" stroke-width="1" fill="none"/>
<circle cx="166.3" cy="11.7" r="4.1" fill="#e02810" stroke="#b41a06" stroke-width="0.6"/>
<rect x="165" y="10.1" width="3.1" height="3.1" fill="#fff"/>
<text x="175.4" y="10.5" font-size="11.8" font-weight="500" fill="#000">自动交易</text>
<rect x="230" y="0" width="1" height="20" fill="#a0a0a0" shape-rendering="crispEdges"/><rect x="231" y="0" width="1" height="20" fill="#ffffff" shape-rendering="crispEdges"/>
<rect x="234" y="0" width="3" height="1" fill="#a0a0a0" shape-rendering="crispEdges"/>
<rect x="234" y="2" width="3" height="1" fill="#a0a0a0" shape-rendering="crispEdges"/>
<rect x="234" y="4" width="3" height="1" fill="#a0a0a0" shape-rendering="crispEdges"/>
<rect x="234" y="6" width="3" height="1" fill="#a0a0a0" shape-rendering="crispEdges"/>
<rect x="234" y="8" width="3" height="1" fill="#a0a0a0" shape-rendering="crispEdges"/>
<rect x="234" y="10" width="3" height="1" fill="#a0a0a0" shape-rendering="crispEdges"/>
<rect x="234" y="12" width="3" height="1" fill="#a0a0a0" shape-rendering="crispEdges"/>
<rect x="234" y="14" width="3" height="1" fill="#a0a0a0" shape-rendering="crispEdges"/>
<rect x="234" y="16" width="3" height="1" fill="#a0a0a0" shape-rendering="crispEdges"/>
<path d="M248.5 3V16M246 13.5H258.5" stroke="#505050" stroke-width="1.2" fill="none"/>
<path d="M246.5 5L248.5 2L250.5 5Z M256.5 11.5L259.5 13.5L256.5 15.5Z" fill="#505050"/>
<path d="M254.8 3.8V11.6M254.8 4.5H257.3M252 10.6H254.8" stroke="#0e8c0e" stroke-width="1.3" fill="none"/>
<rect x="269" y="0" width="24" height="18" fill="url(#chk)" shape-rendering="crispEdges"/>
<rect x="268" y="0" width="1" height="18" fill="#808080" shape-rendering="crispEdges"/>
<rect x="268" y="18" width="26" height="1" fill="#ffffff" shape-rendering="crispEdges"/>
<rect x="293" y="0" width="1" height="19" fill="#ffffff" shape-rendering="crispEdges"/>
<path d="M276.5 3V16M274 13.5H286.5" stroke="#505050" stroke-width="1.2" fill="none"/>
<path d="M274.5 5L276.5 2L278.5 5Z M284.5 11.5L287.5 13.5L284.5 15.5Z" fill="#505050"/>
<path d="M282.5 0V11.6" stroke="#0e8c0e" stroke-width="1.2"/>
<rect x="280.2" y="2.6" width="4.6" height="7" fill="#3fe05a" stroke="#0e8c0e" stroke-width="0.9"/>
<path d="M304.5 3V16M302 13.5H314.5" stroke="#505050" stroke-width="1.2" fill="none"/>
<path d="M302.5 5L304.5 2L306.5 5Z M312.5 11.5L315.5 13.5L312.5 15.5Z" fill="#505050"/>
<path d="M303.4 10.8C306 8.5 307.5 5.2 309.4 5.4C311 5.6 312.5 8.6 314.6 9.2" stroke="#2e9a2e" stroke-width="1.3" fill="none"/>
<rect x="325" y="0" width="1" height="18" fill="#a0a0a0" shape-rendering="crispEdges"/>
<path d="M344 10L349.3 15" stroke="#b8860b" stroke-width="3.2" stroke-linecap="butt"/>
<path d="M344.2 9.6L349.4 14.5" stroke="#f3d34a" stroke-width="1.3"/>
<circle cx="340" cy="6" r="5.6" fill="url(#lens)" stroke="#2a78c8" stroke-width="1.1"/>
<path d="M337 6H343M340 3V9" stroke="#2f86b8" stroke-width="1.6"/>
<path d="M372 10L377.3 15" stroke="#b8860b" stroke-width="3.2" stroke-linecap="butt"/>
<path d="M372.2 9.6L377.4 14.5" stroke="#f3d34a" stroke-width="1.3"/>
<circle cx="368" cy="6" r="5.6" fill="url(#lens)" stroke="#2a78c8" stroke-width="1.1"/>
<path d="M365 6H371" stroke="#2f86b8" stroke-width="1.6"/>
<rect x="390.2" y="-0.2" width="7.6" height="7.8" rx="0.8" fill="#3aa322"/>
<rect x="391.2" y="3.1999999999999997" width="5.6" height="3.6" fill="#ffffff"/>
<rect x="392.0" y="4.2" width="4" height="0.9" fill="#9ad88a"/>
<rect x="391.2" y="0.8" width="1" height="1" fill="#ffffff" opacity="0.8"/>
<rect x="398.3" y="-0.2" width="7.6" height="7.8" rx="0.8" fill="#1f55d8"/>
<rect x="399.3" y="3.1999999999999997" width="5.6" height="3.6" fill="#ffffff"/>
<rect x="400.1" y="4.2" width="4" height="0.9" fill="#8fb0f0"/>
<rect x="399.3" y="0.8" width="1" height="1" fill="#ffffff" opacity="0.8"/>
<rect x="390.2" y="8" width="7.6" height="7.8" rx="0.8" fill="#1f55d8"/>
<rect x="391.2" y="11.4" width="5.6" height="3.6" fill="#ffffff"/>
<rect x="392.0" y="12.4" width="4" height="0.9" fill="#8fb0f0"/>
<rect x="391.2" y="9" width="1" height="1" fill="#ffffff" opacity="0.8"/>
<rect x="398.3" y="8" width="7.6" height="7.8" rx="0.8" fill="#3aa322"/>
<rect x="399.3" y="11.4" width="5.6" height="3.6" fill="#ffffff"/>
<rect x="400.1" y="12.4" width="4" height="0.9" fill="#9ad88a"/>
<rect x="399.3" y="9" width="1" height="1" fill="#ffffff" opacity="0.8"/>
<rect x="415" y="0" width="1" height="18" fill="#a0a0a0" shape-rendering="crispEdges"/>
<rect x="421" y="0" width="24" height="18" fill="url(#chk)" shape-rendering="crispEdges"/>
<rect x="420" y="0" width="1" height="18" fill="#808080" shape-rendering="crispEdges"/>
<rect x="420" y="18" width="26" height="1" fill="#ffffff" shape-rendering="crispEdges"/>
<rect x="445" y="0" width="1" height="19" fill="#ffffff" shape-rendering="crispEdges"/>
<path d="M428.5 3V16M426 13.5H438.5" stroke="#505050" stroke-width="1.2" fill="none"/>
<path d="M426.5 5L428.5 2L430.5 5Z M436.5 11.5L439.5 13.5L436.5 15.5Z" fill="#505050"/>
<path d="M433.3 4.2L437.2 7.5L433.3 10.8Z" fill="#69d769" stroke="#18a218" stroke-width="0.9"/>
<rect x="449" y="0" width="24" height="18" fill="url(#chk)" shape-rendering="crispEdges"/>
<rect x="448" y="0" width="1" height="18" fill="#808080" shape-rendering="crispEdges"/>
<rect x="448" y="18" width="26" height="1" fill="#ffffff" shape-rendering="crispEdges"/>
<rect x="473" y="0" width="1" height="19" fill="#ffffff" shape-rendering="crispEdges"/>
<path d="M456.5 3V16M454 13.5H466.5" stroke="#505050" stroke-width="1.2" fill="none"/>
<path d="M454.5 5L456.5 2L458.5 5Z M464.5 11.5L467.5 13.5L464.5 15.5Z" fill="#505050"/>
<path d="M462.5 2V11.8" stroke="#1b6fb0" stroke-width="1.3"/>
<path d="M463.6 7.5L466.4 5.4V9.6Z M466 7.5H468" fill="#d84a00" stroke="#d84a00" stroke-width="1"/>
<rect x="477" y="0" width="1" height="18" fill="#a0a0a0" shape-rendering="crispEdges"/>
<path d="M487.8 -1H495.5L498.8 2.3V13.4H487.8Z" fill="#fdfdfd" stroke="#8a8a8a" stroke-width="0.9"/>
<path d="M495.5 -1V2.3H498.8" fill="#e8e8e8" stroke="#8a8a8a" stroke-width="0.7"/>
<text x="489.6" y="10.8" font-size="11" font-style="italic" fill="#5a5a40" font-family="'Liberation Serif',serif">f</text>
<path d="M495.3 6.300000000000001H498.7V10.200000000000001H502.6V13.6H498.7V17.5H495.3V13.6H491.4V10.200000000000001H495.3Z" fill="url(#gp)" stroke="#078207" stroke-width="0.9"/>
<path d="M509 7H514L511.5 10Z" fill="#000"/>
<circle cx="532.8" cy="7.8" r="6.9" fill="#fbfbfb" stroke="url(#blu)" stroke-width="2.1"/>
<circle cx="532.8" cy="7.8" r="7.9" fill="none" stroke="#0b4aa8" stroke-width="0.5"/>
<path d="M532.3 4V8.2H535.6" stroke="#222" stroke-width="1.2" fill="none"/>
<path d="M532.8 2.6V3.4M532.8 12.2V13M527.6 7.8H528.4M537.2 7.8H538" stroke="#888" stroke-width="0.8"/>
<path d="M548 7H553L550.5 10Z" fill="#000"/>
<rect x="564.4" y="1.4" width="15.2" height="13.2" fill="#ffffff" stroke="#2f6fc0" stroke-width="1"/>
<rect x="564.4" y="1.4" width="15.2" height="2.4" fill="#3f7fd0"/>
<path d="M564.4 9.3H579.6" stroke="#2f6fc0" stroke-width="0.9"/>
<path d="M566.4 7.4L568.6 7.2L570.6 5.6L572.4 6.6L574.6 6.4L577.6 5.4" stroke="#a82010" stroke-width="1.2" fill="none"/>
<path d="M567 12.6L569.2 11.8L571 12.6L573.2 11.6L575 10.4L577.8 12.8" stroke="#138a13" stroke-width="1.2" fill="none"/>
<path d="M587 7H592L589.5 10Z" fill="#000"/>
<rect x="598" y="0" width="1" height="20" fill="#a0a0a0" shape-rendering="crispEdges"/><rect x="599" y="0" width="1" height="20" fill="#ffffff" shape-rendering="crispEdges"/>
<rect x="602" y="0" width="3" height="1" fill="#a0a0a0" shape-rendering="crispEdges"/>
<rect x="602" y="2" width="3" height="1" fill="#a0a0a0" shape-rendering="crispEdges"/>
<rect x="602" y="4" width="3" height="1" fill="#a0a0a0" shape-rendering="crispEdges"/>
<rect x="602" y="6" width="3" height="1" fill="#a0a0a0" shape-rendering="crispEdges"/>
<rect x="602" y="8" width="3" height="1" fill="#a0a0a0" shape-rendering="crispEdges"/>
<rect x="602" y="10" width="3" height="1" fill="#a0a0a0" shape-rendering="crispEdges"/>
<rect x="602" y="12" width="3" height="1" fill="#a0a0a0" shape-rendering="crispEdges"/>
<rect x="602" y="14" width="3" height="1" fill="#a0a0a0" shape-rendering="crispEdges"/>
<rect x="602" y="16" width="3" height="1" fill="#a0a0a0" shape-rendering="crispEdges"/>
<rect x="609" y="0" width="24" height="18" fill="url(#chk)" shape-rendering="crispEdges"/>
<rect x="608" y="0" width="1" height="18" fill="#808080" shape-rendering="crispEdges"/>
<rect x="608" y="18" width="26" height="1" fill="#ffffff" shape-rendering="crispEdges"/>
<rect x="633" y="0" width="1" height="19" fill="#ffffff" shape-rendering="crispEdges"/>
<path d="M616.3 0.8V12L618.9 9.6L621.2 14.8L623 14L620.8 9L624.2 8.6Z" fill="#505050"/>
<path d="M648.5 1V6.8M648.5 10V16M641 8.5H647M650 8.5H656" stroke="#404040" stroke-width="1.2" fill="none"/>
<rect x="665" y="0" width="1" height="18" fill="#a0a0a0" shape-rendering="crispEdges"/>
<path d="M682.5 2V15" stroke="#484848" stroke-width="1.3"/>
<path d="M705 8.5H717.2" stroke="#484848" stroke-width="1.3"/>
<path d="M732.8 14.8L745.2 2.4" stroke="#484848" stroke-width="1.2"/>
<path d="M759 9.6L767.4 2M763.6 15L772.9 6.4" stroke="#484848" stroke-width="1.15"/>
<path d="M761.6 13.8L763 6.4M764.8 12L766.2 4.8M768 9.8L769.4 3.2M770.8 7L771.4 0" stroke="#484848" stroke-width="1.1"/>
<text x="769.8" y="16.7" font-size="6.6" font-weight="bold" fill="#333">E</text>
<path d="M788 1.5H801.5" stroke="#555" stroke-width="1" stroke-dasharray="1 1"/>
<path d="M788 4.4H801.5" stroke="#555" stroke-width="1" stroke-dasharray="1 1"/>
<path d="M788 8.5H801.5" stroke="#555" stroke-width="1" stroke-dasharray="1 1"/>
<path d="M788 12.5H798" stroke="#555" stroke-width="1" stroke-dasharray="1 1"/>
<text x="798" y="16.7" font-size="6.6" font-weight="bold" fill="#333">F</text>
<text x="818.2" y="13.3" font-size="13.4" font-weight="bold" fill="#686868" textLength="9" lengthAdjust="spacingAndGlyphs">A</text>
<path d="M845 2.5H857M845 14.5H857M845.5 2V15M856.5 2V15" fill="none" stroke="#505050" stroke-width="1" stroke-dasharray="1 1" shape-rendering="crispEdges"/>
<text x="846.8" y="13" font-size="11.6" fill="#505050" stroke="#505050" stroke-width="0.5" textLength="8.4" lengthAdjust="spacingAndGlyphs">T</text>
<path d="M875.4 1.6L878.6 4.4L875.4 6.6L872.2 4.4Z" fill="#484848"/>
<path d="M883 14.6L879.4 11.2L883 9.4L886.4 11.2Z" fill="#484848"/>
<path d="M874.6 9L876.8 11L881.8 5.2" stroke="#484848" stroke-width="1.3" fill="none"/>
<path d="M893 7H898L895.5 10Z" fill="#000"/>
<rect x="904" y="0" width="1" height="20" fill="#a0a0a0" shape-rendering="crispEdges"/><rect x="905" y="0" width="1" height="20" fill="#ffffff" shape-rendering="crispEdges"/>
<rect x="908" y="0" width="3" height="1" fill="#a0a0a0" shape-rendering="crispEdges"/>
<rect x="908" y="2" width="3" height="1" fill="#a0a0a0" shape-rendering="crispEdges"/>
<rect x="908" y="4" width="3" height="1" fill="#a0a0a0" shape-rendering="crispEdges"/>
<rect x="908" y="6" width="3" height="1" fill="#a0a0a0" shape-rendering="crispEdges"/>
<rect x="908" y="8" width="3" height="1" fill="#a0a0a0" shape-rendering="crispEdges"/>
<rect x="908" y="10" width="3" height="1" fill="#a0a0a0" shape-rendering="crispEdges"/>
<rect x="908" y="12" width="3" height="1" fill="#a0a0a0" shape-rendering="crispEdges"/>
<rect x="908" y="14" width="3" height="1" fill="#a0a0a0" shape-rendering="crispEdges"/>
<rect x="908" y="16" width="3" height="1" fill="#a0a0a0" shape-rendering="crispEdges"/>
<rect x="1055" y="0" width="24" height="18" fill="url(#chk)" shape-rendering="crispEdges"/>
<rect x="1054" y="0" width="1" height="18" fill="#808080" shape-rendering="crispEdges"/>
<rect x="1054" y="18" width="26" height="1" fill="#ffffff" shape-rendering="crispEdges"/>
<rect x="1079" y="0" width="1" height="19" fill="#ffffff" shape-rendering="crispEdges"/>
<text x="919.3000000000001" y="12" transform="rotate(0.03 919.6 12)" font-size="10.2" fill="#3a3a3a" stroke="#3a3a3a" stroke-width="0.2" textLength="13.1" lengthAdjust="spacingAndGlyphs">M1</text>
<text x="947.7" y="12" transform="rotate(0.03 948 12)" font-size="10.2" fill="#3a3a3a" stroke="#3a3a3a" stroke-width="0.2" textLength="12.7" lengthAdjust="spacingAndGlyphs">M5</text>
<text x="973.5" y="12" transform="rotate(0.03 973.8 12)" font-size="10.2" fill="#3a3a3a" stroke="#3a3a3a" stroke-width="0.2" textLength="18.2" lengthAdjust="spacingAndGlyphs">M15</text>
<text x="1001.4000000000001" y="12" transform="rotate(0.03 1001.7 12)" font-size="10.2" fill="#3a3a3a" stroke="#3a3a3a" stroke-width="0.2" textLength="18.2" lengthAdjust="spacingAndGlyphs">M30</text>
<text x="1032.7" y="12" transform="rotate(0.03 1033 12)" font-size="10.2" fill="#3a3a3a" stroke="#3a3a3a" stroke-width="0.2" textLength="11.5" lengthAdjust="spacingAndGlyphs">H1</text>
<text x="1059.3" y="12" transform="rotate(0.03 1059.6 12)" font-size="10.2" fill="#3a3a3a" stroke="#3a3a3a" stroke-width="0.2" textLength="13.1" lengthAdjust="spacingAndGlyphs">H4</text>
<text x="1088.5" y="12" transform="rotate(0.03 1088.8 12)" font-size="10.2" fill="#3a3a3a" stroke="#3a3a3a" stroke-width="0.2" textLength="12.299999999999999" lengthAdjust="spacingAndGlyphs">D1</text>
<text x="1116.0" y="12" transform="rotate(0.03 1116.3 12)" font-size="10.2" fill="#3a3a3a" stroke="#3a3a3a" stroke-width="0.2" textLength="14.799999999999999" lengthAdjust="spacingAndGlyphs">W1</text>
<text x="1142.7" y="12" transform="rotate(0.03 1143 12)" font-size="10.2" fill="#3a3a3a" stroke="#3a3a3a" stroke-width="0.2" textLength="15.2" lengthAdjust="spacingAndGlyphs">MN</text>
<rect x="1165" y="0" width="1" height="20" fill="#a0a0a0" shape-rendering="crispEdges"/><rect x="1166" y="0" width="1" height="20" fill="#ffffff" shape-rendering="crispEdges"/>
<path d="M1632.2 8.8L1628.9 12.2" stroke="#2458cf" stroke-width="2.7" stroke-linecap="round"/>
<path d="M1631.4 9.8L1629.2 12.2" stroke="#7fa0ea" stroke-width="0.8" stroke-dasharray="0.8 0.8"/>
<circle cx="1635.6" cy="5.4" r="4" fill="#f6f8ff" stroke="#2a5fd5" stroke-width="1.3"/>
<path d="M1657.8 5.4C1662 5.4 1663.8 7.6 1663.8 10C1663.8 12.6 1661.6 14.4 1658.6 14.4L1656.2 14.4L1655.6 16.6L1654.6 14C1653 13.2 1652.2 11.8 1652.2 10C1652.2 7.4 1654.4 5.4 1657.8 5.4Z" fill="#e2e2ec" stroke="#a4a4a4" stroke-width="0.9"/>
<circle cx="1666.6" cy="5.3" r="8.3" fill="url(#redg)"/>
<text x="1662.3" y="10" font-size="12.4" fill="#ffffff">1</text>
</g>
</svg></body></html>
